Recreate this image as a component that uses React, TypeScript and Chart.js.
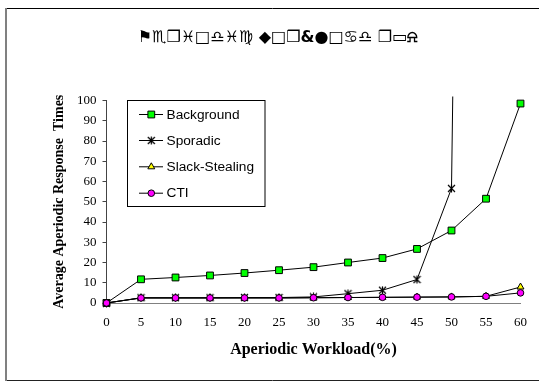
import React, { useEffect, useRef } from "react";
import { Chart, registerables } from "chart.js";

Chart.register(...registerables);

// Aperiodic workload (%) on the x axis
const workload = ["0", "5", "10", "15", "20", "25", "30", "35", "40", "45", "50", "55", "60"];

// Average aperiodic response times per server algorithm
const background = [0, 11.7, 12.6, 13.6, 14.8, 16.2, 17.7, 20.0, 22.2, 26.7, 35.8, 51.5, 98.5];
const sporadic = [0, 2.6, 2.6, 2.6, 2.7, 2.7, 3.0, 4.6, 6.3, 11.6, 56.6, 1300, null];
const slackStealing = [0, 2.5, 2.5, 2.5, 2.5, 2.5, 2.6, 2.7, 2.8, 2.9, 3.0, 3.3, 7.9];
const cti = [0, 2.5, 2.5, 2.5, 2.5, 2.5, 2.6, 2.7, 2.8, 2.9, 3.0, 3.3, 5.0];

const seriesNames = ["Background", "Sporadic", "Slack-Stealing", "CTI"];
const yTicks = [0, 10, 20, 30, 40, 50, 60, 70, 80, 90, 100];

const titleText = "⚑♏❒♓□♎♓♍ ◆□❒&●□♋♎ ❐▭⍾";

// Star marker: an X crossed by a vertical stroke
function makeStar(): HTMLCanvasElement {
  const c = document.createElement("canvas");
  c.width = 9;
  c.height = 9;
  const g = c.getContext("2d")!;
  g.strokeStyle = "#000";
  g.lineWidth = 1.2;
  g.beginPath();
  g.moveTo(1, 1);
  g.lineTo(8, 8);
  g.moveTo(8, 1);
  g.lineTo(1, 8);
  g.moveTo(4.5, 0.5);
  g.lineTo(4.5, 8.5);
  g.stroke();
  return c;
}

function drawMarker(ctx: CanvasRenderingContext2D, ds: any, x: number, y: number) {
  const style = ds.pointStyle;
  const r = ds.pointRadius;
  ctx.save();
  ctx.fillStyle = ds.pointBackgroundColor;
  ctx.strokeStyle = ds.pointBorderColor;
  ctx.lineWidth = ds.pointBorderWidth;
  if (style instanceof HTMLCanvasElement) {
    ctx.drawImage(style, x - style.width / 2, y - style.height / 2);
  } else {
    ctx.beginPath();
    if (style === "rect") {
      const s = Math.SQRT1_2 * r;
      ctx.rect(x - s, y - s, 2 * s, 2 * s);
    } else if (style === "triangle") {
      const a = r * 1.5;
      ctx.moveTo(x, y - r);
      ctx.lineTo(x + a * 0.577 * 1.0, y + r * 0.5);
      ctx.lineTo(x - a * 0.577 * 1.0, y + r * 0.5);
      ctx.closePath();
    } else {
      ctx.arc(x, y, r, 0, Math.PI * 2);
    }
    ctx.fill();
    ctx.stroke();
  }
  ctx.restore();
}

const framePlugin = {
  id: "frame",
  beforeDraw(chart: any) {
    const ctx = chart.ctx as CanvasRenderingContext2D;
    ctx.save();
    ctx.fillStyle = "#fff";
    ctx.fillRect(0, 0, chart.width, chart.height);
    ctx.strokeStyle = "#000";
    ctx.lineWidth = 1;
    ctx.beginPath();
    ctx.moveTo(6, 8.5);
    ctx.lineTo(chart.width, 8.5);
    ctx.stroke();
    ctx.strokeStyle = "#222";
    ctx.beginPath();
    ctx.moveTo(6, 380.5);
    ctx.lineTo(chart.width, 380.5);
    ctx.stroke();
    ctx.strokeStyle = "#808080";
    ctx.lineWidth = 2;
    ctx.beginPath();
    ctx.moveTo(6, 8);
    ctx.lineTo(6, 381);
    ctx.stroke();
    ctx.restore();
  },
  afterDraw(chart: any) {
    const ctx = chart.ctx as CanvasRenderingContext2D;
    ctx.save();
    // title
    ctx.fillStyle = "#000";
    ctx.font = "bold 16px 'DejaVu Sans'";
    ctx.textAlign = "center";
    ctx.textBaseline = "middle";
    ctx.fillText(titleText, 278, 38);

    // legend box
    const bx = 127.5, by = 100.5, bw = 137.5, bh = 106;
    ctx.fillStyle = "#fff";
    ctx.fillRect(bx, by, bw, bh);
    ctx.strokeStyle = "#000";
    ctx.lineWidth = 1;
    ctx.strokeRect(bx, by, bw, bh);
    const rows = [114.5, 140.5, 166.8, 193.2];
    ctx.font = "13.7px 'Liberation Sans', Arial, sans-serif";
    ctx.textAlign = "left";
    ctx.textBaseline = "middle";
    chart.data.datasets.forEach((ds: any, i: number) => {
      const y = rows[i];
      ctx.strokeStyle = ds.borderColor;
      ctx.lineWidth = ds.borderWidth;
      ctx.beginPath();
      ctx.moveTo(139, y);
      ctx.lineTo(163, y);
      ctx.stroke();
      drawMarker(ctx, ds, 151.3, y);
      ctx.fillStyle = "#000";
      ctx.fillText(ds.label, 166.5, y + 0.5);
    });
    ctx.restore();
  },
};

export default function App() {
  const ref = useRef<HTMLCanvasElement>(null);

  useEffect(() => {
    const star = makeStar();
    const common = {
      borderColor: "#000",
      borderWidth: 1,
      pointBorderColor: "#000",
      pointBorderWidth: 1,
      tension: 0,
      clip: { left: 8, top: 4, right: 8, bottom: 8 },
    };
    const chart = new Chart(ref.current!, {
      type: "line",
      data: {
        labels: workload,
        datasets: [
          {
            ...common,
            label: seriesNames[0],
            data: background,
            pointStyle: "rect",
            pointRadius: 4.8,
            pointBackgroundColor: "#00ff00",
            order: 3,
          },
          {
            ...common,
            label: seriesNames[1],
            data: sporadic,
            pointStyle: star,
            pointRadius: 4,
            pointBackgroundColor: "#000",
            order: 2,
          },
          {
            ...common,
            label: seriesNames[2],
            data: slackStealing,
            pointStyle: "triangle",
            pointRadius: 4,
            pointBackgroundColor: "#ffff00",
            order: 1,
          },
          {
            ...common,
            label: seriesNames[3],
            data: cti,
            pointStyle: "circle",
            pointRadius: 3.3,
            pointBackgroundColor: "#ff00ff",
            order: 0,
          },
        ],
      },
      options: {
        animation: false,
        responsive: false,
        devicePixelRatio: 1,
        layout: { padding: { left: 50, right: 18, top: 100.5, bottom: 19 } },
        plugins: {
          legend: { display: false },
          title: { display: false },
          tooltip: { enabled: false },
        },
        scales: {
          x: {
            type: "category",
            offset: false,
            grid: { display: false, drawTicks: false },
            border: { display: true, color: "#808080", width: 1 },
            ticks: {
              color: "#000",
              padding: 12,
              maxRotation: 0,
              autoSkip: false,
              font: { family: "'Liberation Serif', 'Times New Roman', serif", size: 13 },
            },
            title: {
              display: true,
              text: "Aperiodic Workload(%)",
              color: "#000",
              padding: { top: 0, bottom: 4 },
              font: { family: "'Liberation Serif', 'Times New Roman', serif", size: 16, weight: "bold" },
            },
            afterFit(scale: any) {
              scale.height = 60;
            },
          },
          y: {
            min: 0,
            max: 100,
            afterBuildTicks(scale: any) {
              scale.ticks = yTicks.map((v) => ({ value: v }));
            },
            grid: {
              drawOnChartArea: false,
              drawTicks: true,
              tickLength: 4,
              tickColor: "#444",
            },
            border: { display: true, color: "#444", width: 1 },
            ticks: {
              color: "#000",
              padding: 6,
              font: { family: "'Liberation Serif', 'Times New Roman', serif", size: 13 },
            },
            title: {
              display: true,
              text: "Average Aperiodic Response  Times",
              color: "#000",
              padding: { top: 1, bottom: 0 },
              font: { family: "'Liberation Serif', 'Times New Roman', serif", size: 14, weight: "bold" },
            },
            afterFit(scale: any) {
              scale.width = 56.5;
            },
          },
        },
      },
      plugins: [framePlugin],
    });
    return () => chart.destroy();
  }, []);

  return (
    <div style={{ position: "absolute", left: 0, top: 0, width: 539, height: 382, background: "#fff" }}>
      <canvas ref={ref} width={539} height={382} />
    </div>
  );
}
